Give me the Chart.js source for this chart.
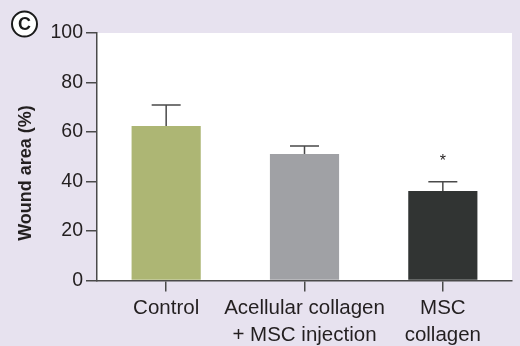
<!DOCTYPE html>
<html>
<head>
<meta charset="utf-8">
<script src="https://cdn.jsdelivr.net/npm/chart.js@4/dist/chart.umd.min.js"></script>
<style>
  html, body { margin: 0; padding: 0; background: #e7e2ef; }
  #wrap { width: 520px; height: 346px; position: relative; }
</style>
</head>
<body>
<div id="wrap"><canvas id="c" width="520" height="346"></canvas></div>
<script>
// Wound area per treatment group (mean, upper SEM)
const groups = [['Control'], ['Acellular collagen', '+ MSC injection'], ['MSC', 'collagen']];
const woundArea = [62.4, 51.1, 36.2];
const woundErr = [8.5, 3.2, 3.7];
const significance = ['', '', '*'];
const yTicks = [0, 20, 40, 60, 80, 100];
const barColors = ['#adb674', '#a0a1a5', '#313433'];

const FONT = '"Liberation Sans", Arial, Helvetica, sans-serif';
const INK = '#231f20';
const AXIS = '#4a4a4a';

const decorations = {
  id: 'decorations',
  beforeDraw(chart) {
    const { ctx, chartArea: a } = chart;
    ctx.save();
    ctx.fillStyle = '#ffffff';
    ctx.fillRect(a.left, a.top, a.right - a.left, a.bottom - a.top);
    ctx.restore();
  },
  afterDatasetsDraw(chart) {
    const { ctx } = chart;
    const meta = chart.getDatasetMeta(0);
    const y = chart.scales.y;
    ctx.save();
    ctx.strokeStyle = AXIS;
    ctx.lineWidth = 1.5;
    meta.data.forEach((bar, i) => {
      const yTop = y.getPixelForValue(woundArea[i]);
      const yErr = y.getPixelForValue(woundArea[i] + woundErr[i]);
      const half = 14.5;
      ctx.beginPath();
      ctx.moveTo(bar.x, yTop);
      ctx.lineTo(bar.x, yErr);
      ctx.moveTo(bar.x - half, yErr);
      ctx.lineTo(bar.x + half, yErr);
      ctx.stroke();
      if (significance[i]) {
        ctx.fillStyle = INK;
        ctx.font = '16px ' + FONT;
        ctx.textAlign = 'center';
        ctx.textBaseline = 'middle';
        ctx.fillText(significance[i], bar.x, yErr - 20);
      }
    });
    ctx.restore();
  },
  afterDraw(chart) {
    const { ctx } = chart;
    ctx.save();
    // y-axis title
    ctx.translate(26, 173);
    ctx.rotate(-Math.PI / 2);
    ctx.fillStyle = INK;
    ctx.font = 'bold 18px ' + FONT;
    ctx.textAlign = 'center';
    ctx.textBaseline = 'middle';
    ctx.fillText('Wound area (%)', 0, 0);
    ctx.restore();

    // panel letter
    ctx.save();
    ctx.beginPath();
    ctx.arc(24.5, 24, 12.5, 0, Math.PI * 2);
    ctx.fillStyle = '#ffffff';
    ctx.fill();
    ctx.lineWidth = 2;
    ctx.strokeStyle = '#1a1a1a';
    ctx.stroke();
    ctx.fillStyle = '#1a1a1a';
    ctx.font = 'bold 18px ' + FONT;
    ctx.textAlign = 'center';
    ctx.textBaseline = 'middle';
    ctx.fillText('C', 24.5, 25);
    ctx.restore();
  }
};

new Chart(document.getElementById('c'), {
  type: 'bar',
  data: {
    labels: groups,
    datasets: [{
      data: woundArea,
      backgroundColor: barColors,
      borderWidth: 0,
      categoryPercentage: 1.0,
      barPercentage: 0.5
    }]
  },
  options: {
    responsive: false,
    animation: false,
    devicePixelRatio: 1,
    layout: { padding: { top: 33, right: 8, bottom: 0, left: 0 } },
    plugins: { legend: { display: false }, tooltip: { enabled: false } },
    scales: {
      x: {
        offset: true,
        grid: { offset: false, drawOnChartArea: false, drawTicks: true, tickLength: 11, color: AXIS, lineWidth: 1.5 },
        border: { display: true, color: AXIS, width: 1.5 },
        ticks: {
          color: INK, autoSkip: false, maxRotation: 0, padding: 4,
          font: { family: FONT, size: 20.5, lineHeight: 1.3 }
        },
        afterFit(scale) { scale.height = 65.5; }
      },
      y: {
        min: 0, max: 100,
        afterBuildTicks(scale) { scale.ticks = yTicks.map(v => ({ value: v })); },
        grid: { drawOnChartArea: false, drawTicks: true, tickLength: 11, color: AXIS, lineWidth: 1.5 },
        border: { display: true, color: AXIS, width: 1.5 },
        ticks: { color: INK, padding: 3, font: { family: FONT, size: 19.5 } },
        afterFit(scale) { scale.width = 97; }
      }
    }
  },
  plugins: [decorations]
});
</script>
</body>
</html>
